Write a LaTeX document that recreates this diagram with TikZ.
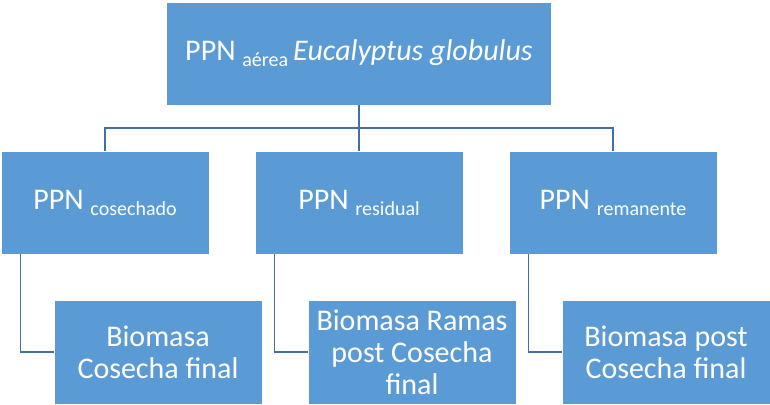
\documentclass[tikz,border=0pt]{standalone}
\usepackage{fontspec}
\setmainfont{Carlito}
\usepackage{tikz}
\usepackage{color}
\definecolor{boxblue}{HTML}{5B9BD5}
\definecolor{linkblue}{HTML}{41719C}
\newcommand{\subtxt}[1]{\raisebox{-6pt}{\fontsize{20}{20}\selectfont #1}}

\begin{document}
\begin{tikzpicture}[x=1pt,y=-1pt,
		box/.style={rectangle,draw=white,fill=boxblue,text=white,inner sep=0pt,minimum width=208pt,minimum height=103pt,align=center,font=\fontsize{30}{32}\selectfont},
		link/.style={draw=linkblue,line width=1.3pt}]
			\useasboundingbox (0,0) rectangle (770,404);
			
			% top
			
			\node[box,minimum width=385pt] (T) at (359,53.5) {PPN \subtxt{a\'erea}\,\textit{Eucalyptus globulus}};
			
			% PPN
			
			\foreach \i/\lab in {1/cosechado,2/residual,3/remanente} {
				\pgfmathtruncatemacro{\xx}{105 + (\i-1) * 254}
				\node[box] (C\i) at (\xx,202.5) {PPN \subtxt{\lab}};
			}
			\coordinate (bus) at (359,128);
			\draw[link] (T.south) -- (C2.north);
			\draw[link] (C1.north) |- (bus) -| (C3.north);
			
			% biomasa
			
			\node[box,minimum height=104pt] (B1) at (158,352) {Biomasa\\Cosecha final};
			\node[box,minimum height=104pt] (B2) at (412,352) {Biomasa Ramas\\post Cosecha\\final};
			\node[box,minimum height=104pt] (B3) at (666,352) {Biomasa post\\Cosecha final};
			\foreach \i in {1,...,3} {
				\draw[link] ([xshift=20pt]C\i.south west) |- (B\i.west);
			}
			
		\end{tikzpicture}
\end{document}
